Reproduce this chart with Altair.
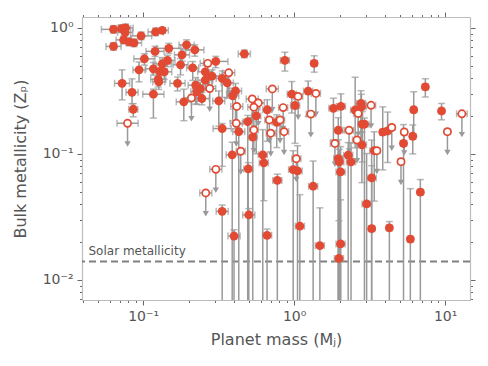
import altair as alt
import pandas as pd
import numpy as np

# ---- measured planets (filled circles) ----
mass_f = [0.0637, 0.0720, 0.0766, 0.0760, 0.0743, 0.0807, 0.0871, 0.0970, 0.0637, 0.121,
          0.134, 0.120, 0.148, 0.102, 0.094, 0.117, 0.134, 0.145, 0.129, 0.138,
          0.126, 0.127, 0.169, 0.0726, 0.0845, 0.0861, 0.117,
          0.181, 0.194, 0.220, 0.177, 0.213, 0.303, 0.468, 0.258, 0.286, 0.334,
          0.361, 0.258, 0.223, 0.239, 0.227, 0.409, 0.392, 0.186, 0.245, 0.317,
          0.664, 0.561, 0.493, 0.334, 0.430, 0.532, 0.389, 0.620, 0.334, 0.400,
          0.497, 0.501, 0.630, 0.662, 0.774, 0.767,
          0.868, 1.357, 0.965, 1.238, 1.014, 1.82, 2.04, 2.535, 2.77, 2.79,
          1.96, 2.825, 2.92, 2.81, 1.96, 2.28, 3.39, 0.985, 1.053, 1.336,
          1.091, 1.48, 1.99, 2.38, 2.03, 2.03, 1.98, 3.02, 3.26, 3.26,
          7.39, 6.19, 9.46, 3.86, 4.16, 6.10, 5.30, 6.85, 4.27, 5.88]
z_f = [0.973, 0.987, 1.00, 0.921, 0.803, 0.774, 0.760, 0.864, 0.713, 0.929,
       0.955, 0.651, 0.688, 0.568, 0.464, 0.473, 0.518, 0.552, 0.451, 0.448,
       0.390, 0.373, 0.363, 0.363, 0.308, 0.226, 0.298,
       0.611, 0.733, 0.669, 0.509, 0.482, 0.542, 0.622, 0.448, 0.414, 0.397,
       0.366, 0.385, 0.351, 0.330, 0.311, 0.316, 0.289, 0.259, 0.275, 0.263,
       0.224, 0.200, 0.180, 0.159, 0.150, 0.136, 0.0983, 0.0983, 0.0350, 0.0223,
       0.0760, 0.0328, 0.0849, 0.0226, 0.0616, 0.178,
       0.552, 0.523, 0.298, 0.315, 0.242, 0.230, 0.238, 0.223, 0.252, 0.236,
       0.154, 0.172, 0.172, 0.118, 0.0918, 0.0977, 0.106, 0.0750, 0.0733, 0.0554,
       0.0267, 0.0187, 0.0864, 0.0864, 0.0720, 0.0193, 0.0148, 0.0401, 0.0255, 0.0645,
       0.340, 0.224, 0.219, 0.149, 0.152, 0.138, 0.121, 0.0497, 0.0259, 0.0211]
# mass uncertainty (dex)
xerr_f = [0.08, 0.06, 0.05, 0.05, 0.05, 0.05, 0.05, 0.07, 0.05, 0.05,
          0.04, 0.06, 0.08, 0.07, 0.04, 0.05, 0.06, 0.05, 0.05, 0.05,
          0.05, 0.04, 0.05, 0.05, 0.04, 0.03, 0.07,
          0.05, 0.05, 0.06, 0.05, 0.04, 0.08, 0.04, 0.05, 0.05, 0.04,
          0.04, 0.05, 0.05, 0.05, 0.04, 0.04, 0.04, 0.05, 0.05, 0.04,
          0.03, 0.03, 0.03, 0.06, 0.04, 0.03, 0.04, 0.03, 0.04, 0.04,
          0.03, 0.04, 0.03, 0.03, 0.03, 0.03,
          0.03, 0.02, 0.03, 0.03, 0.03, 0.03, 0.03, 0.03, 0.03, 0.03,
          0.03, 0.03, 0.03, 0.03, 0.03, 0.03, 0.03, 0.03, 0.03, 0.03,
          0.03, 0.03, 0.03, 0.03, 0.03, 0.03, 0.03, 0.03, 0.02, 0.03,
          0.02, 0.02, 0.02, 0.02, 0.02, 0.02, 0.02, 0.02, 0.02, 0.02]
# metallicity upper / lower uncertainty (dex); -1 = lower bound unconstrained
zup_f = [0.03, 0.03, 0.03, 0.03, 0.03, 0.03, 0.03, 0.03, 0.03, 0.03,
         0.02, 0.04, 0.04, 0.04, 0.063, 0.05, 0.05, 0.04, 0.05, 0.05,
         0.05, 0.05, 0.05, 0.107, 0.107, 0.044, 0.04,
         0.05, 0.04, 0.04, 0.05, 0.05, 0.04, 0.03, 0.05, 0.05, 0.06,
         0.05, 0.05, 0.06, 0.05, 0.05, 0.06, 0.06, 0.1, 0.05, 0.08,
         0.08, 0.06, 0.05, 0.04, 0.06, 0.06, 0.1, 0.2, 0.05, 0.05,
         0.05, 0.05, 0.05, 0.05, 0.05, 0.06,
         0.065, 0.06, 0.1, 0.08, 0.1, 0.08, 0.1, 0.26, 0.1, 0.1,
         0.1, 0.1, 0.05, 0.1, 0.15, 0.1, 0.15, 0.15, 0.2, 0.2,
         0.25, 0.3, 0.1, 0.15, 0.2, 0.35, 0.3, 0.4, 0.5, 0.3,
         0.065, 0.143, 0.06, 0.2, 0.15, 0.09, 0.15, 0.1, 0.05, 0.4]
zdn_f = [0.03, 0.03, 0.03, 0.03, 0.03, 0.03, 0.03, 0.03, 0.03, 0.03,
         0.02, 0.04, 0.04, 0.05, 0.095, 0.05, 0.06, 0.05, 0.06, 0.06,
         0.06, 0.06, 0.06, 0.131, 0.09, 0.06, 0.19,
         0.05, 0.04, 0.05, 0.08, 0.1, 0.05, 0.03, 0.1, 0.08, 0.15,
         0.12, 0.08, 0.15, 0.1, 0.1, 0.3, 0.2, 0.15, 0.05, 0.2,
         0.25, 0.3, -1, 0.3, -1, -1, -1, -1, -1, -1,
         -1, -1, 0.3, -1, -1, 0.2,
         0.085, 0.07, 0.15, 0.2, 0.3, 0.25, 0.2, 0.3, 0.3, 0.2,
         -1, 0.3, -1, 0.3, -1, -1, 0.4, -1, -1, -1,
         -1, -1, -1, -1, -1, -1, -1, -1, -1, -1,
         0.08, 0.2, 0.07, 0.3, 0.25, 0.14, -1, -1, -1, -1]

# ---- upper limits (open circles with arrows) ----
mass_u = [0.0789, 0.268, 0.369, 0.276, 0.717, 0.209, 0.528, 0.579, 0.541, 0.417,
          0.685, 0.414, 0.541, 0.700, 0.443, 0.303, 0.260, 0.807, 1.063, 1.393,
          0.846, 1.290, 0.858, 2.655, 3.23, 2.31, 1.862, 2.606, 1.034, 12.9,
          10.35, 4.43, 5.36, 3.53, 5.10]
z_u = [0.175, 0.523, 0.440, 0.330, 0.328, 0.278, 0.273, 0.254, 0.235, 0.238,
       0.186, 0.175, 0.155, 0.146, 0.105, 0.0754, 0.0490, 0.186, 0.286, 0.302,
       0.233, 0.207, 0.150, 0.209, 0.243, 0.154, 0.121, 0.129, 0.0916, 0.208,
       0.150, 0.162, 0.149, 0.106, 0.0867]
xerr_u = [0.07, 0.05, 0.04, 0.04, 0.04, 0.05, 0.04, 0.04, 0.04, 0.04,
          0.03, 0.04, 0.03, 0.03, 0.03, 0.04, 0.04, 0.03, 0.03, 0.03,
          0.03, 0.03, 0.03, 0.03, 0.03, 0.03, 0.03, 0.03, 0.03, 0.035,
          0.02, 0.02, 0.02, 0.02, 0.02]

solar_z = 0.014
x_ticks = [0.04, 0.05, 0.06, 0.07, 0.08, 0.09, 0.1, 0.2, 0.3, 0.4, 0.5, 0.6, 0.7, 0.8, 0.9,
           1, 2, 3, 4, 5, 6, 7, 8, 9, 10]
y_ticks = [0.007, 0.008, 0.009, 0.01, 0.02, 0.03, 0.04, 0.05, 0.06, 0.07, 0.08, 0.09,
           0.1, 0.2, 0.3, 0.4, 0.5, 0.6, 0.7, 0.8, 0.9, 1]

ARROW = 0.16  # arrow length (dex)

df_f = pd.DataFrame(dict(m=mass_f, z=z_f, xe=xerr_f, up=zup_f, dn=zdn_f))
df_f["m_lo"] = df_f.m * 10 ** (-df_f.xe)
df_f["m_hi"] = df_f.m * 10 ** (df_f.xe)
df_f["z_hi"] = df_f.z * 10 ** df_f.up
df_f["z_lo"] = np.where(df_f.dn < 0, 1e-4, df_f.z * 10 ** (-df_f.dn.clip(lower=0)))
df_f["capped"] = df_f.dn >= 0

df_u = pd.DataFrame(dict(m=mass_u, z=z_u, xe=xerr_u))
df_u["m_lo"] = df_u.m * 10 ** (-df_u.xe)
df_u["m_hi"] = df_u.m * 10 ** (df_u.xe)
df_u["z_tip"] = df_u.z * 10 ** (-ARROW)
df_u["z_head"] = df_u.z * 10 ** (-ARROW - 0.005)

RED = "#E24A33"
GRAY = "#9a9a9a"
FONT = "DejaVu Sans"
TXT = "#555555"
FRAME = "#bcbcbc"

xs = alt.Scale(type="log", domain=[0.0394, 14.6], nice=False)
ys = alt.Scale(type="log", domain=[0.00693, 1.22], nice=False)

decade = "abs(log(datum.value)/LN10 - round(log(datum.value)/LN10)) < 0.001"
tsize = {"condition": {"test": decade, "value": 5}, "value": 2.5}

x_lab = ("datum.value == 0.1 ? '10\u207b\u00b9' : datum.value == 1 ? '10\u2070' : "
         "datum.value == 10 ? '10\u00b9' : ''")
y_lab = ("datum.value == 0.01 ? '10\u207b\u00b2' : datum.value == 0.1 ? '10\u207b\u00b9' : "
         "datum.value == 1 ? '10\u2070' : ''")

common = dict(grid=False, domainColor=FRAME, domainWidth=1.2, tickColor="#666666",
              tickWidth=1, tickSize=tsize, labelColor=TXT, titleColor=TXT,
              labelFont=FONT, titleFont=FONT, labelFontSize=14, titleFontSize=16,
              titleFontWeight="normal", labelOverlap=False, labelFlush=False,
              labelBound=False)

x_axis = alt.Axis(values=x_ticks, labelExpr=x_lab, orient="bottom",
                  title="Planet mass (M\u2C7C)", labelPadding=4, titlePadding=8, **common)
y_axis = alt.Axis(values=y_ticks, labelExpr=y_lab, orient="left",
                  title="Bulk metallicity (Z\u209A)", labelPadding=4, titlePadding=14, **common)
x_axis_top = alt.Axis(values=x_ticks, orient="top", labels=False, title=None,
                      grid=False, domainColor=FRAME, domainWidth=1.2, tickColor="#666666",
                      tickWidth=1, tickSize=tsize)
y_axis_right = alt.Axis(values=y_ticks, orient="right", labels=False, title=None,
                        grid=False, domainColor=FRAME, domainWidth=1.2, tickColor="#666666",
                        tickWidth=1, tickSize=tsize)

bf = alt.Chart(df_f)
bu = alt.Chart(df_u)

def X(f):
    return alt.X(f, type="quantitative", scale=xs, axis=None)

def Y(f):
    return alt.Y(f, type="quantitative", scale=ys, axis=None)

axes_bl = bf.mark_point(opacity=0).encode(
    x=alt.X("m:Q", scale=xs, axis=x_axis), y=alt.Y("z:Q", scale=ys, axis=y_axis))
axes_tr = bf.mark_point(opacity=0).encode(
    x=alt.X("m:Q", scale=xs, axis=x_axis_top), y=alt.Y("z:Q", scale=ys, axis=y_axis_right))

solar = alt.Chart(pd.DataFrame({"z": [solar_z]})).mark_rule(
    color="#808080", strokeWidth=2, strokeDash=[7, 4]).encode(y=Y("z"))
solar_txt = alt.Chart(pd.DataFrame({"m": [0.0435], "z": [0.0158], "t": ["Solar metallicity"]})).mark_text(
    align="left", baseline="alphabetic", font=FONT, fontSize=12, color=TXT).encode(
    x=X("m"), y=Y("z"), text="t:N")

yerr = bf.mark_rule(color=GRAY, strokeWidth=1.5, clip=True).encode(x=X("m"), y=Y("z_lo"), y2="z_hi")
ycap_hi = bf.mark_tick(orient="horizontal", color=GRAY, size=7, thickness=1.5, clip=True).encode(
    x=X("m"), y=Y("z_hi"))
ycap_lo = bf.transform_filter("datum.capped").mark_tick(
    orient="horizontal", color=GRAY, size=7, thickness=1.5, clip=True).encode(x=X("m"), y=Y("z_lo"))
xerr = bf.mark_rule(color=GRAY, strokeWidth=1.5, clip=True).encode(x=X("m_lo"), x2="m_hi", y=Y("z"))
xcap_lo = bf.mark_tick(orient="vertical", color=GRAY, size=7, thickness=1.5, clip=True).encode(
    x=X("m_lo"), y=Y("z"))
xcap_hi = bf.mark_tick(orient="vertical", color=GRAY, size=7, thickness=1.5, clip=True).encode(
    x=X("m_hi"), y=Y("z"))

uxerr = bu.mark_rule(color=GRAY, strokeWidth=1.5, clip=True).encode(x=X("m_lo"), x2="m_hi", y=Y("z"))
uxcap_lo = bu.mark_tick(orient="vertical", color=GRAY, size=7, thickness=1.5, clip=True).encode(
    x=X("m_lo"), y=Y("z"))
uxcap_hi = bu.mark_tick(orient="vertical", color=GRAY, size=7, thickness=1.5, clip=True).encode(
    x=X("m_hi"), y=Y("z"))
arrow = bu.mark_rule(color=GRAY, strokeWidth=1.5, clip=True).encode(x=X("m"), y=Y("z"), y2="z_tip")
head = bu.mark_point(shape="triangle-down", filled=True, color=GRAY, size=40, opacity=1).encode(
    x=X("m"), y=Y("z_head"))

pts_f = bf.mark_circle(color=RED, size=78, opacity=1).encode(x=X("m"), y=Y("z"))
pts_u = bu.mark_point(shape="circle", color=RED, fill="white", filled=False, size=52,
                      strokeWidth=1.7, opacity=1, fillOpacity=1).encode(x=X("m"), y=Y("z"))

chart = alt.layer(
    axes_bl, solar, solar_txt, yerr, ycap_hi, ycap_lo, xerr, xcap_lo, xcap_hi,
    uxerr, uxcap_lo, uxcap_hi, arrow, head, pts_f, pts_u, axes_tr
).resolve_axis(x="independent", y="independent").properties(
    width=388, height=283,
    autosize=alt.AutoSizeParams(type="none"),
    padding={"left": 74, "top": 9, "right": 10, "bottom": 50},
).configure_view(stroke=FRAME, strokeWidth=1.2).configure(background="white")

chart.save("out.html", embed_options={"renderer": "svg", "actions": False})
